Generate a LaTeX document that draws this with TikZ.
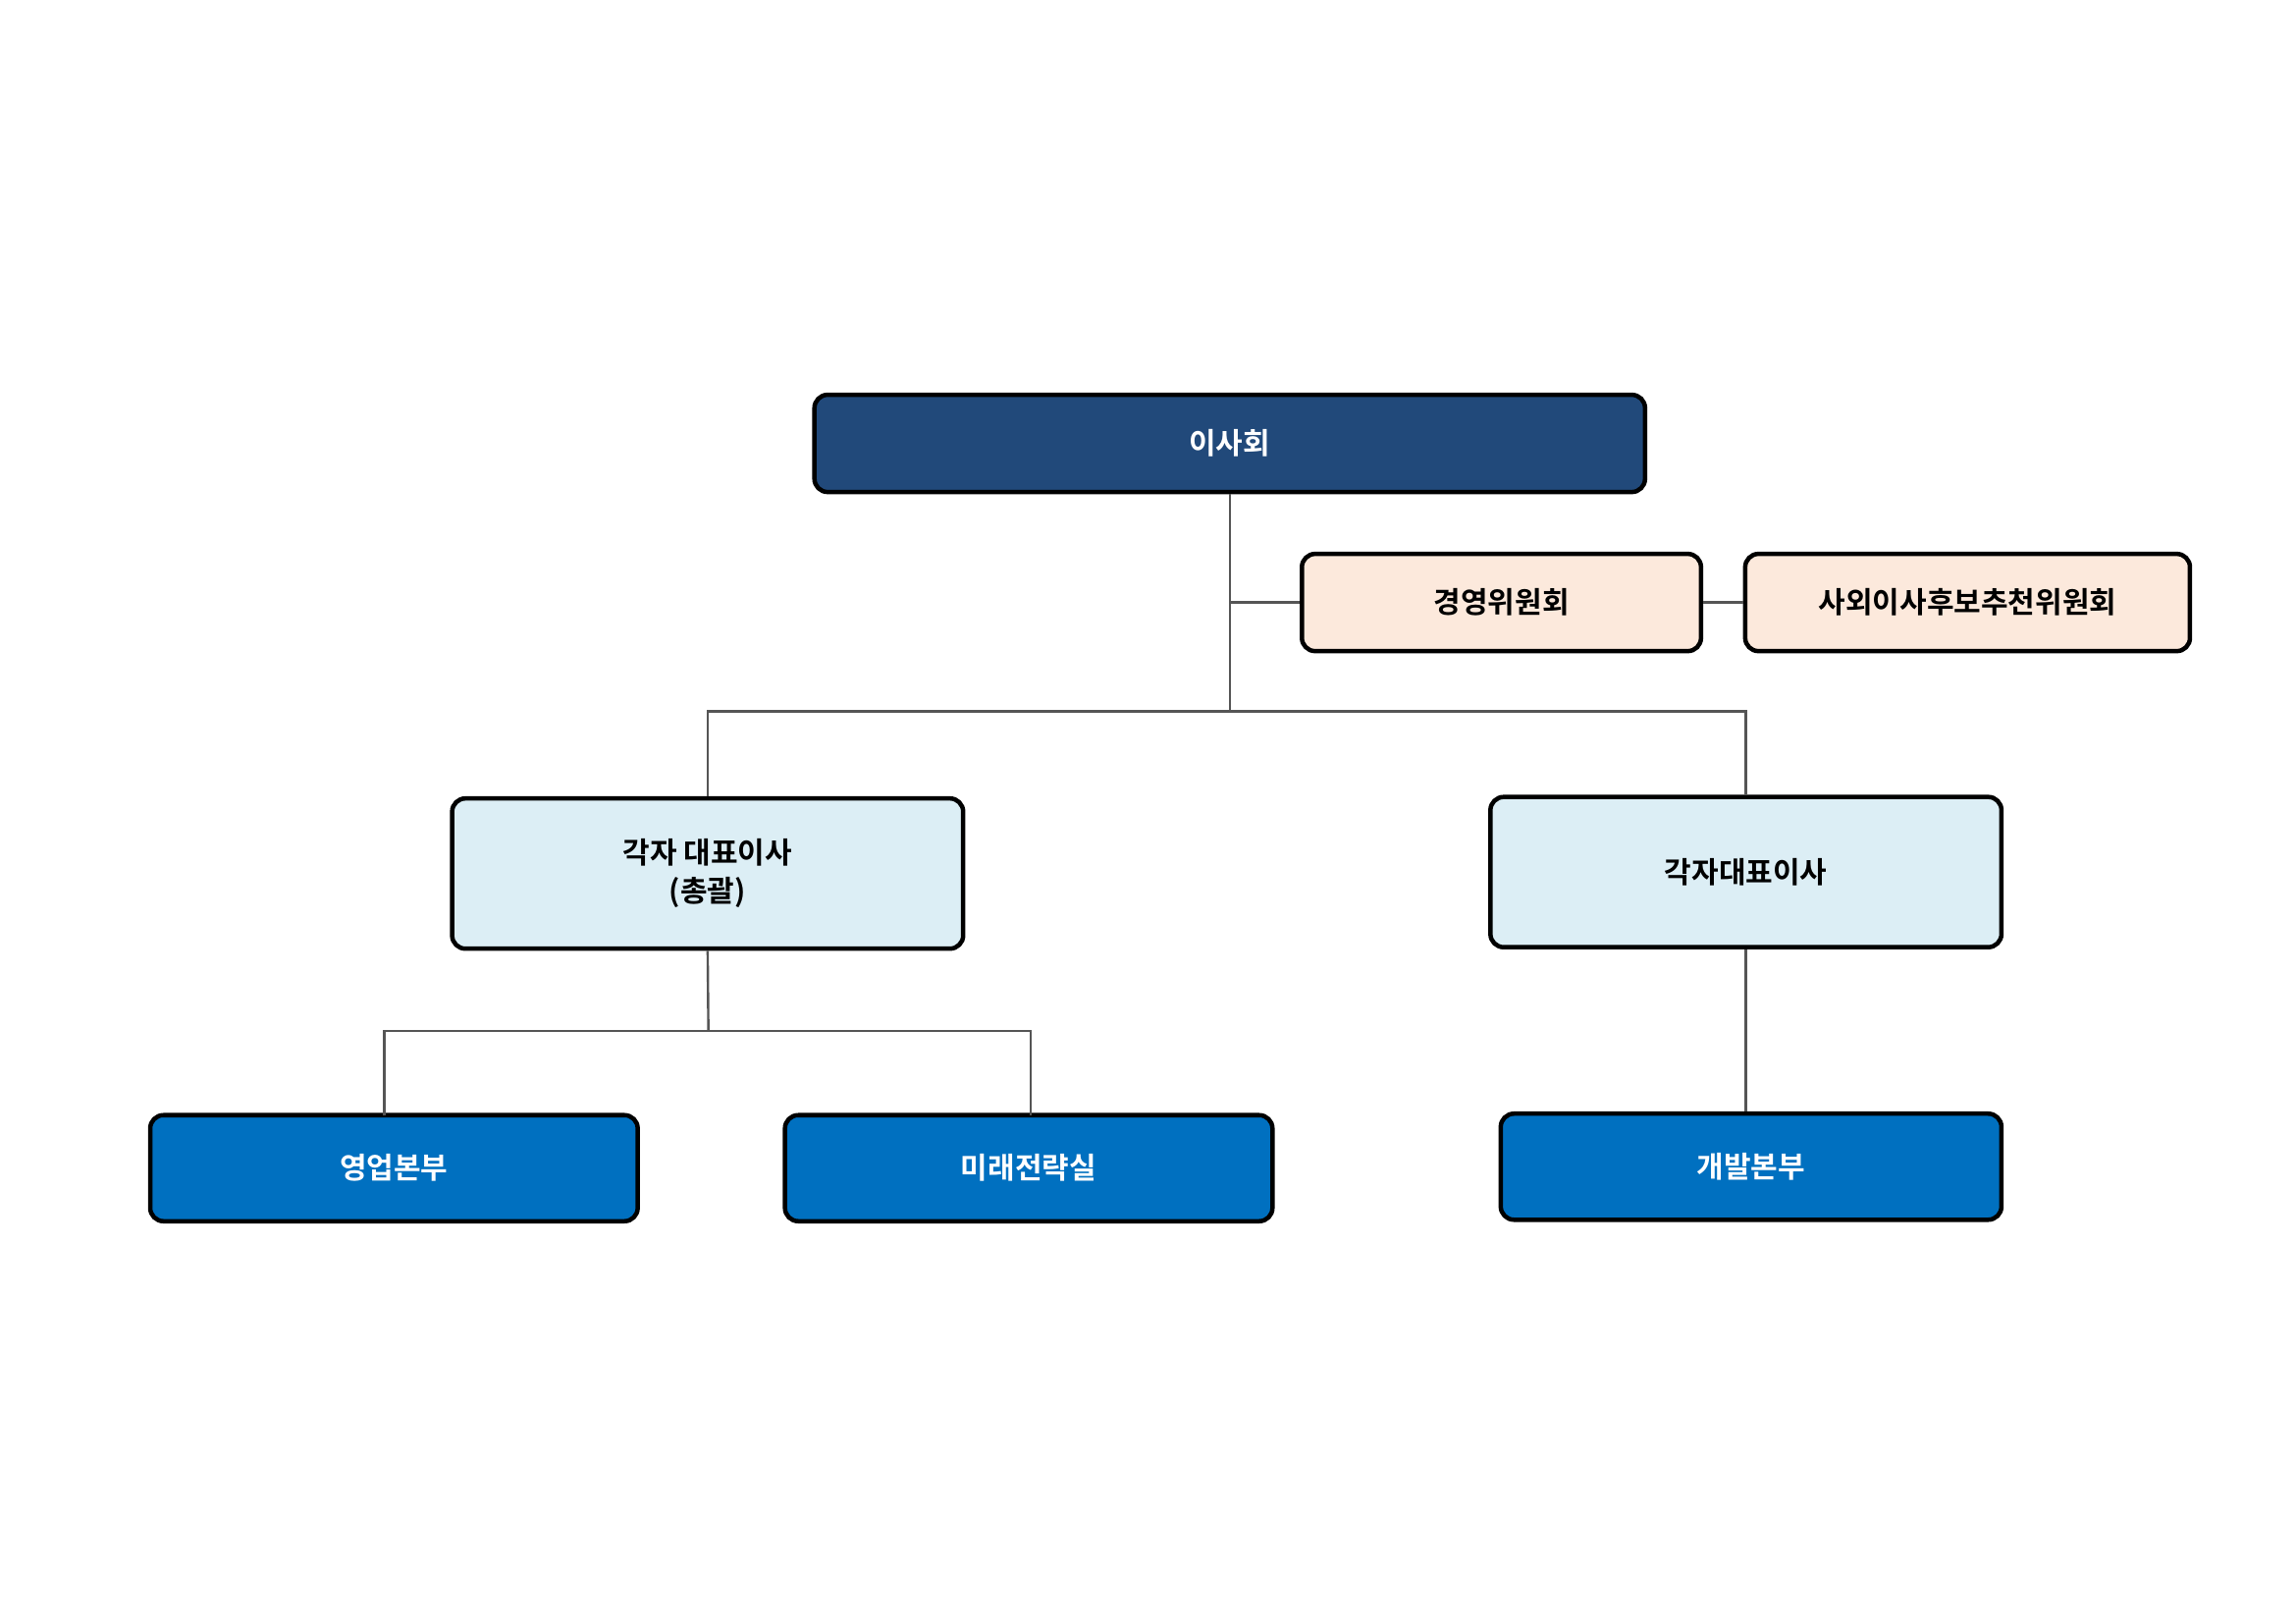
\documentclass[tikz,border=0pt]{standalone}
\usepackage{fontspec}
\setmainfont{Noto Sans CJK KR}[BoldFont={Noto Sans CJK KR Bold}]
\begin{document}
\begin{tikzpicture}[x=1pt,y=-1pt,
 box/.style={draw=black,line width=3pt,rounded corners=9pt,font=\fontsize{20}{26}\selectfont\bfseries,align=center,inner sep=0pt},
 navy/.style={box,fill={rgb,255:red,33;green,73;blue,122},text=white},
 peach/.style={box,fill={rgb,255:red,252;green,233;blue,220}},
 light/.style={box,fill={rgb,255:red,220;green,238;blue,245}},
 blue/.style={box,fill={rgb,255:red,0;green,112;blue,192},text=white},
 ln/.style={draw={rgb,255:red,85;green,85;blue,85},line width=1.6pt}]
\useasboundingbox (0,0) rectangle (1559,1102);
\newcommand{\bx}[6]{\node[#1,minimum width=#4-#2,minimum height=#5-#3] (#6) at ({(#2+#4)/2},{(#3+#5)/2})}
\bx{navy}{553}{268}{1117}{334}{board} {이사회};
\bx{peach}{884}{376}{1155}{442}{mgmt} {경영위원회};
\bx{peach}{1185}{376}{1487}{442}{nom} {사외이사후보추천위원회};
\bx{light}{307}{542}{654}{644}{ceoA} {각자 대표이사\\(총괄)};
\bx{light}{1012}{541}{1359}{643}{ceoB} {각자대표이사};
\bx{blue}{102}{757}{433}{829}{sales} {영업본부};
\bx{blue}{533}{757}{864}{829}{strat} {미래전략실};
\bx{blue}{1019}{756}{1359}{828}{dev} {개발본부};
\coordinate (j1) at (835,483);
\coordinate (j2) at (481,700);
\begin{scope}[on background layer/.try]
\draw[ln] (board.south -| j1) -- (j1);
\draw[ln] (mgmt.west) -- (mgmt.west -| j1);
\draw[ln] (mgmt.east) -- (nom.west);
\draw[ln] (ceoA.north) -- (ceoA.north |- j1) -- (ceoB.north |- j1) -- (ceoB.north);
\draw[ln] (ceoA.south) -- (j2);
\draw[ln] (261,757) -- (261,700) -- (700,700) -- (700,757);
\draw[ln] (ceoB.south) -- (ceoB.south |- dev.north);
\end{scope}
\end{tikzpicture}
\end{document}
